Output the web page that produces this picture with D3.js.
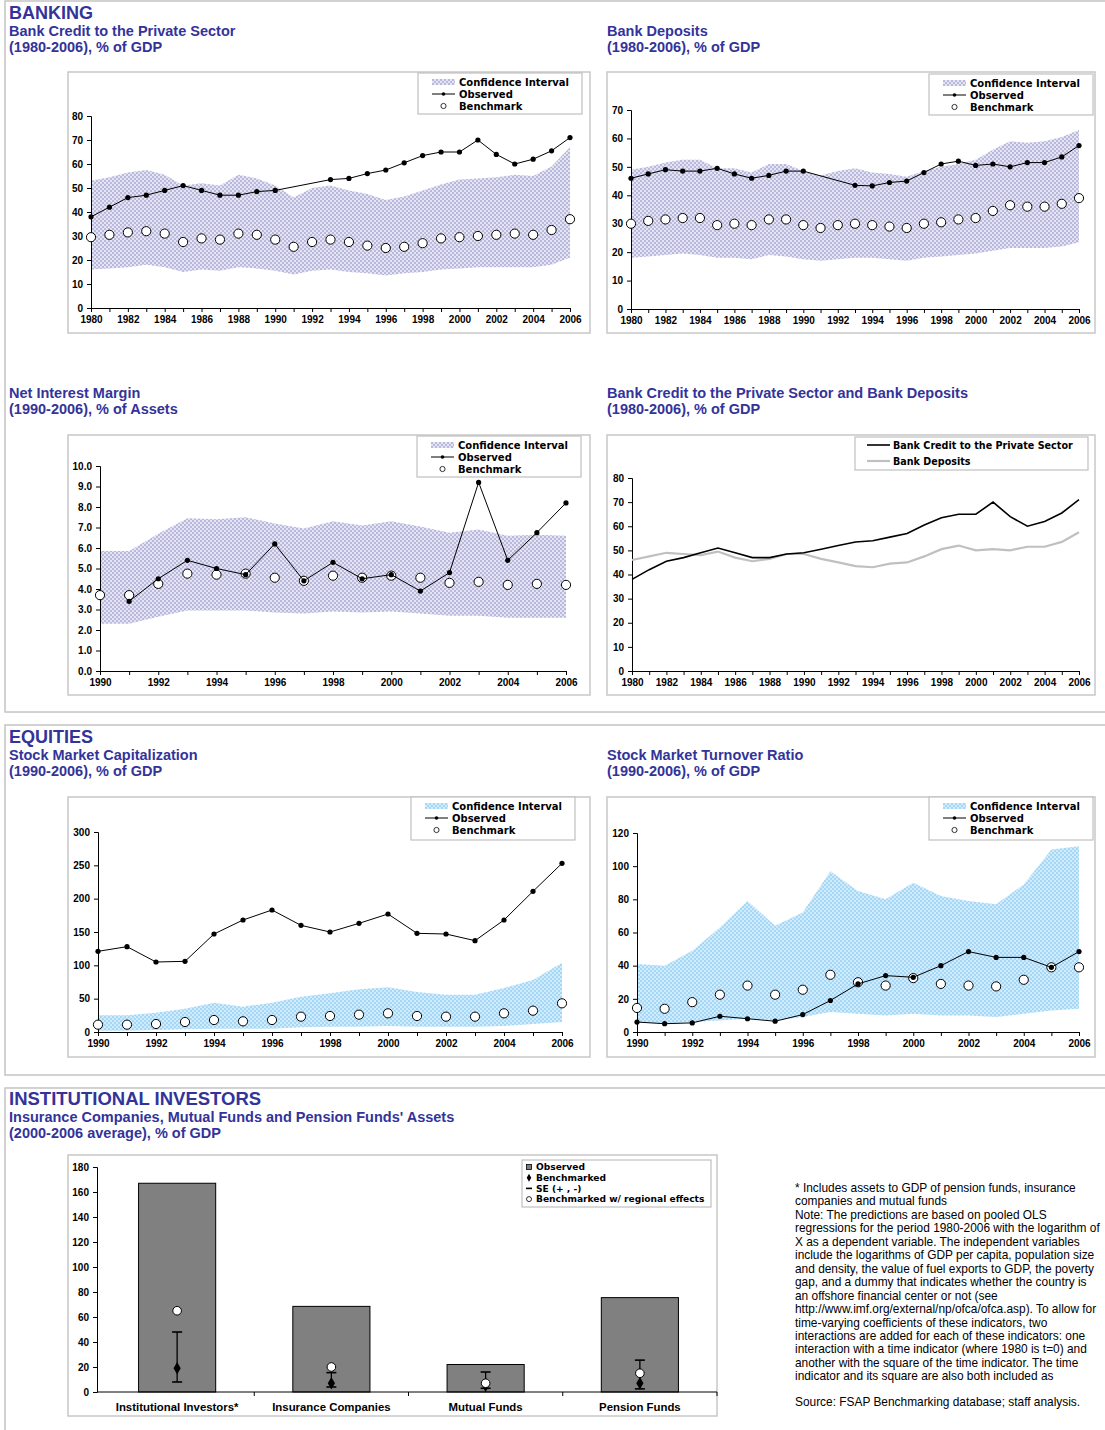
<!DOCTYPE html>
<html>
<head>
<meta charset="utf-8">
<script src="https://cdn.jsdelivr.net/npm/d3@7"></script>
<style>
  body { margin: 0; background: #fff; }
  svg text { font-family: "Liberation Sans", Arial, sans-serif; }
  .tick text { font-weight: bold; font-size: 10px; fill: #000; }
  .lg { font-family: "DejaVu Sans", sans-serif !important; font-weight: bold; font-size: 10px; }
  .note { font-size: 11.9px; fill: #000; }
</style>
</head>
<body>
<div id="chart"></div>
<script>
// ---- data ----
const years80 = [1980,1981,1982,1983,1984,1985,1986,1987,1988,1989,1990,1991,1992,1993,1994,1995,1996,1997,1998,1999,2000,2001,2002,2003,2004,2005,2006];
const years90 = [1990,1991,1992,1993,1994,1995,1996,1997,1998,1999,2000,2001,2002,2003,2004,2005,2006];

// Bank credit to the private sector
const creditObs   = [38,42,46,47,49,51,49,47,47,48.5,49,null,null,53.5,54,56,57.5,60.5,63.5,65,65,70,64,60,62,65.5,71];
const creditBench = [29.5,30.5,31.5,32,31,27.5,29,28.5,31,30.5,28.5,25.5,27.5,28.5,27.5,26,25,25.5,27,29,29.5,30,30.5,31,30.5,32.5,37];
const creditHi    = [53,54.5,56.5,57.5,55.5,51,52,51,55.5,54,51,46,50,51,49,47.5,45,46.5,49,51.5,53.5,54,54.5,55.5,55,59,67];
const creditLo    = [16,16.5,17,18,17,15,16,15.5,17,16.5,15.5,14,15.5,16,15,14.5,13.5,14.5,15,16,16.5,17,17,17,17,18,21];

// Bank deposits
const depObs   = [46,47.5,49,48.5,48.5,49.5,47.5,46,47,48.5,48.5,null,null,43.5,43.3,44.5,45,48,51,52,50.5,51,50,51.5,51.5,53.5,57.5];
const depBench = [30,31,31.5,32,32,29.5,30,29.5,31.5,31.5,29.5,28.5,29.5,30,29.5,29,28.5,30,30.5,31.5,32,34.5,36.5,36,36,37,39];
const depHi    = [49,50,51.5,52.5,52.5,49.5,49.5,48,51,51,48.5,47,48.5,49.5,48,47.5,46.5,48.5,50,51,52.5,56,59,58.5,59,60.5,63];
const depLo    = [18,18.5,19,19.5,19,18,18,17.5,19,18.5,17.5,17,17.5,18,18,17.5,17,18,18.5,19,19.5,20.5,21.5,21.5,21.5,22,23.5];

// Combined chart lines
const creditLine  = [38,42,45.5,47,49,51,49,47,47,48.5,49,50.5,52,53.5,54,55.5,57,60.5,63.5,65,65,70,64,60,62,65.5,71];
const depositLine = [46,47.5,49,48.5,48,49.5,47,45.5,46.5,48.5,48.5,46.5,45,43.5,43,44.5,45,47.5,50.5,52,50,50.5,50,51.5,51.5,53.5,57.5];

// Net interest margin
const nimObs   = [null,3.4,4.5,5.4,5.0,4.7,6.2,4.4,5.3,4.5,4.7,3.9,4.8,9.2,5.4,6.75,8.2];
const nimBench = [3.7,3.7,4.25,4.75,4.7,4.75,4.55,4.4,4.65,4.55,4.65,4.55,4.3,4.35,4.2,4.25,4.2];
const nimHi    = [5.85,5.85,6.7,7.45,7.4,7.5,7.2,6.95,7.3,7.1,7.3,7.05,6.75,6.9,6.6,6.65,6.6];
const nimLo    = [2.3,2.3,2.65,2.95,2.95,2.95,2.85,2.8,2.9,2.85,2.9,2.8,2.7,2.7,2.6,2.6,2.6];

// Stock market capitalization
const capObs   = [121,128,105,106,147,168,183,160,150,163,177,148,147,137,168,211,253];
const capBench = [11,11,12,15,18,16,18,23,24,26,28,24,23,23,28,32,43];
const capHi    = [25,25,29,35,44,38,44,53,58,64,67,60,56,56,66,78,104];
const capLo    = [2,2,3,4,5,5,5,7,8,8,9,8,8,8,9,12,15];

// Stock market turnover ratio
const turnObs   = [6,5,5.5,9.5,8,6.5,10.5,19,29,34,33,40,48.5,45,45,39,48.5];
const turnBench = [14.5,14,18,22.5,28,22.5,25.5,34.5,30,28,32.5,29,28,27.5,31.5,39,39];
const turnHi    = [41,40,49,63,79,64,72,97,85,80,90,82,79,77,89,110,112];
const turnLo    = [6,5,6,7,8,7,9,12,11,10,11,10,10,9,11,13,14];

// Institutional investors
const instCats   = ["Institutional Investors*", "Insurance Companies", "Mutual Funds", "Pension Funds"];
const instObs    = [167, 68.5, 22, 75.5];
const instBench  = [19, 7, 5, 7];
const instSeLo   = [8, 4, 3, 2.5];
const instSeHi   = [48, 15.5, 16, 25.5];
const instRegion = [65, 20, 7, 15];

const noteLines = [
  "* Includes assets to GDP of pension funds, insurance",
  "companies and mutual funds",
  "Note: The predictions are based on pooled OLS",
  "regressions for the period 1980-2006 with the logarithm of",
  "X as a dependent variable. The independent variables",
  "include the logarithms of GDP per capita, population size",
  "and density, the value of fuel exports to GDP, the poverty",
  "gap, and a dummy that indicates whether the country is",
  "an offshore financial center or not (see",
  "http://www.imf.org/external/np/ofca/ofca.asp). To allow for",
  "time-varying coefficients of these indicators, two",
  "interactions are added for each of these indicators: one",
  "interaction with a time indicator (where 1980 is t=0) and",
  "another with the square of the time indicator. The time",
  "indicator and its square are also both included as"
];

// ---- drawing ----
const W = 1105, H = 1430;
const titleColor = "#33339a";
const svg = d3.select("#chart").append("svg").attr("width", W).attr("height", H);

// fill patterns for the confidence bands
const defs = svg.append("defs");
function dotPattern(id, bg, dot) {
  const p = defs.append("pattern").attr("id", id).attr("patternUnits", "userSpaceOnUse")
    .attr("width", 4).attr("height", 4);
  p.append("rect").attr("width", 4).attr("height", 4).attr("fill", bg);
  p.append("circle").attr("cx", 1).attr("cy", 1).attr("r", 0.8).attr("fill", dot);
  p.append("circle").attr("cx", 3).attr("cy", 3).attr("r", 0.8).attr("fill", dot);
}
dotPattern("lav", "#e4e4f3", "#8282c2");
dotPattern("sky", "#d0ebfb", "#6cc0f0");

// section boxes
[[5, 1, 1110, 711], [5, 725, 1110, 350], [5, 1088, 1110, 350]].forEach(b => {
  svg.append("rect").attr("x", b[0]).attr("y", b[1]).attr("width", b[2]).attr("height", b[3])
    .attr("fill", "none").attr("stroke", "#c4c4c4").attr("stroke-width", 1.5);
});

function heading(x, y, txt, size) {
  svg.append("text").attr("x", x).attr("y", y).text(txt)
    .attr("fill", titleColor).attr("font-weight", "bold").attr("font-size", size);
}
const sub = 14.5;
heading(9, 19, "BANKING", 18);
heading(9, 36, "Bank Credit to the Private Sector", sub);
heading(9, 52, "(1980-2006), % of GDP", sub);
heading(607, 36, "Bank Deposits", sub);
heading(607, 52, "(1980-2006), % of GDP", sub);
heading(9, 398, "Net Interest Margin", sub);
heading(9, 414, "(1990-2006), % of Assets", sub);
heading(607, 398, "Bank Credit to the Private Sector and Bank Deposits", sub);
heading(607, 414, "(1980-2006), % of GDP", sub);
heading(9, 743, "EQUITIES", 18);
heading(9, 760, "Stock Market Capitalization", sub);
heading(9, 776, "(1990-2006), % of GDP", sub);
heading(607, 760, "Stock Market Turnover Ratio", sub);
heading(607, 776, "(1990-2006), % of GDP", sub);
heading(9, 1105, "INSTITUTIONAL INVESTORS", 18.5);
heading(9, 1122, "Insurance Companies, Mutual Funds and Pension Funds' Assets", sub);
heading(9, 1138, "(2000-2006 average), % of GDP", sub);

function frame(f) {
  svg.append("rect").attr("x", f[0]).attr("y", f[1]).attr("width", f[2] - f[0]).attr("height", f[3] - f[1])
    .attr("fill", "#fff").attr("stroke", "#c8c8c8").attr("stroke-width", 1.5);
}

function axes(g, x, y, cfg) {
  const xa = d3.axisBottom(x).tickValues(cfg.years).tickSize(4).tickPadding(4)
    .tickFormat(d => d % 2 === 0 ? d : "");
  g.append("g").attr("transform", `translate(0,${cfg.bottom})`).call(xa)
    .call(s => s.select(".domain").attr("stroke", "#000"));
  const ya = d3.axisLeft(y).tickValues(cfg.yTicks).tickSize(4).tickPadding(4)
    .tickFormat(cfg.fmt || (d => d));
  g.append("g").attr("transform", `translate(${cfg.left},0)`).call(ya)
    .call(s => s.select(".domain").attr("stroke", "#000"));
}

function ciLegend(box, fillId) {
  const g = svg.append("g").attr("transform", `translate(${box[0]},${box[1]})`);
  g.append("rect").attr("width", box[2]).attr("height", box[3]).attr("fill", "#fff")
    .attr("stroke", "#c0c0c0").attr("stroke-width", 1.2);
  g.append("rect").attr("x", 14).attr("y", 6).attr("width", 23).attr("height", 6).attr("fill", `url(#${fillId})`);
  g.append("line").attr("x1", 14).attr("x2", 37).attr("y1", 21).attr("y2", 21).attr("stroke", "#000");
  g.append("circle").attr("cx", 25.5).attr("cy", 21).attr("r", 1.8).attr("fill", "#000");
  g.append("circle").attr("cx", 25.5).attr("cy", 33).attr("r", 2.6).attr("fill", "#fff").attr("stroke", "#000").attr("stroke-width", 0.8);
  ["Confidence Interval", "Observed", "Benchmark"].forEach((t, i) => {
    g.append("text").attr("class", "lg").attr("x", 41).attr("y", 12.5 + i * 12).text(t);
  });
}

function ciChart(cfg) {
  frame(cfg.frame);
  const g = svg.append("g");
  const x = d3.scaleLinear().domain(d3.extent(cfg.years)).range([cfg.left, cfg.right]);
  const y = d3.scaleLinear().domain([0, cfg.yMax]).range([cfg.bottom, cfg.top]);
  const rows = cfg.years.map((yr, i) => ({ yr, obs: cfg.obs[i], bench: cfg.bench[i], lo: cfg.lo[i], hi: cfg.hi[i] }));

  g.append("path").datum(rows)
    .attr("fill", `url(#${cfg.fill})`)
    .attr("d", d3.area().x(d => x(d.yr)).y0(d => y(d.lo)).y1(d => y(d.hi)));

  axes(g, x, y, cfg);

  g.selectAll(".bench").data(rows).join("circle")
    .attr("cx", d => x(d.yr)).attr("cy", d => y(d.bench)).attr("r", 4.6)
    .attr("fill", "#fff").attr("stroke", "#000").attr("stroke-width", 1);

  const obsRows = rows.filter(d => d.obs != null);
  g.append("path").datum(obsRows)
    .attr("fill", "none").attr("stroke", "#000").attr("stroke-width", 1)
    .attr("d", d3.line().x(d => x(d.yr)).y(d => y(d.obs)));
  g.selectAll(".obs").data(obsRows).join("circle")
    .attr("cx", d => x(d.yr)).attr("cy", d => y(d.obs)).attr("r", 2.6).attr("fill", "#000");

  ciLegend(cfg.legend, cfg.fill);
}

const ticks = (a, b, s) => d3.range(a, b + s / 2, s);

ciChart({ frame: [68, 72, 590, 333], left: 91, right: 570, top: 116, bottom: 308,
  years: years80, yMax: 80, yTicks: ticks(0, 80, 10), fill: "lav",
  obs: creditObs, bench: creditBench, lo: creditLo, hi: creditHi, legend: [418, 73, 164, 41] });

ciChart({ frame: [607, 72, 1095, 333], left: 631, right: 1079, top: 110, bottom: 309,
  years: years80, yMax: 70, yTicks: ticks(0, 70, 10), fill: "lav",
  obs: depObs, bench: depBench, lo: depLo, hi: depHi, legend: [929, 74, 164, 41] });

ciChart({ frame: [68, 435, 590, 695], left: 100, right: 566, top: 466, bottom: 671,
  years: years90, yMax: 10, yTicks: ticks(0, 10, 1), fmt: d3.format(".1f"), fill: "lav",
  obs: nimObs, bench: nimBench, lo: nimLo, hi: nimHi, legend: [417, 436, 164, 41] });

ciChart({ frame: [68, 797, 590, 1057], left: 98, right: 562, top: 832, bottom: 1032,
  years: years90, yMax: 300, yTicks: ticks(0, 300, 50), fill: "sky",
  obs: capObs, bench: capBench, lo: capLo, hi: capHi, legend: [411, 797, 164, 43] });

ciChart({ frame: [607, 797, 1095, 1057], left: 637, right: 1079, top: 833, bottom: 1032,
  years: years90, yMax: 120, yTicks: ticks(0, 120, 20), fill: "sky",
  obs: turnObs, bench: turnBench, lo: turnLo, hi: turnHi, legend: [929, 797, 164, 43] });

// combined credit / deposits line chart
(function () {
  const cfg = { left: 632, right: 1079, top: 478, bottom: 671, years: years80, yTicks: ticks(0, 80, 10) };
  frame([607, 435, 1095, 695]);
  const g = svg.append("g");
  const x = d3.scaleLinear().domain(d3.extent(years80)).range([cfg.left, cfg.right]);
  const y = d3.scaleLinear().domain([0, 80]).range([cfg.bottom, cfg.top]);
  axes(g, x, y, cfg);
  const series = [
    { name: "Bank Credit to the Private Sector", vals: creditLine, color: "#000", w: 1.6 },
    { name: "Bank Deposits", vals: depositLine, color: "#c0c0c0", w: 2.2 }
  ];
  series.slice().reverse().forEach(s => {
    g.append("path").datum(years80.map((yr, i) => [yr, s.vals[i]]))
      .attr("fill", "none").attr("stroke", s.color).attr("stroke-width", s.w)
      .attr("d", d3.line().x(d => x(d[0])).y(d => y(d[1])));
  });
  const lg = svg.append("g").attr("transform", "translate(855,437)");
  lg.append("rect").attr("width", 233).attr("height", 33).attr("fill", "#fff")
    .attr("stroke", "#c0c0c0").attr("stroke-width", 1.2);
  series.forEach((s, i) => {
    lg.append("line").attr("x1", 12).attr("x2", 35).attr("y1", 8 + i * 16).attr("y2", 8 + i * 16)
      .attr("stroke", s.color).attr("stroke-width", s.w);
    lg.append("text").attr("class", "lg").attr("x", 38).attr("y", 11.5 + i * 16)
      .style("font-size", "9.6px").text(s.name);
  });
})();

// institutional investors bar chart
(function () {
  frame([68, 1155, 717, 1416]);
  const left = 97, right = 717, top = 1167, bottom = 1392;
  const g = svg.append("g");
  const xb = d3.scaleBand().domain(instCats).range([left + 3, right]);
  const y = d3.scaleLinear().domain([0, 180]).range([bottom, top]);
  const rows = instCats.map((c, i) => ({ c, obs: instObs[i], bench: instBench[i], lo: instSeLo[i], hi: instSeHi[i], reg: instRegion[i] }));
  const bw = xb.bandwidth() * 0.5;
  const cx = c => xb(c) + xb.bandwidth() / 2;

  g.selectAll(".bar").data(rows).join("rect")
    .attr("x", d => cx(d.c) - bw / 2).attr("width", bw)
    .attr("y", d => y(d.obs)).attr("height", d => bottom - y(d.obs))
    .attr("fill", "#808080").attr("stroke", "#000").attr("stroke-width", 1);

  // x axis with ticks between categories
  g.append("line").attr("x1", left).attr("x2", right).attr("y1", bottom).attr("y2", bottom).attr("stroke", "#000");
  g.selectAll(".xt").data(instCats.slice(1).concat(["end"])).join("line")
    .attr("x1", (d, i) => xb.range()[0] + (i + 1) * xb.step()).attr("x2", (d, i) => xb.range()[0] + (i + 1) * xb.step())
    .attr("y1", bottom).attr("y2", bottom + 4).attr("stroke", "#000");
  g.selectAll(".xl").data(rows).join("text")
    .attr("x", d => cx(d.c)).attr("y", bottom + 19).attr("text-anchor", "middle")
    .attr("font-weight", "bold").attr("font-size", 11.4).text(d => d.c);

  g.append("g").attr("transform", `translate(${left},0)`)
    .call(d3.axisLeft(y).tickValues(ticks(0, 180, 20)).tickSize(4).tickPadding(4))
    .call(s => s.select(".domain").attr("stroke", "#000"));

  // SE bars
  rows.forEach(d => {
    const xc = cx(d.c);
    g.append("line").attr("x1", xc).attr("x2", xc).attr("y1", y(d.lo)).attr("y2", y(d.hi)).attr("stroke", "#000").attr("stroke-width", 1.3);
    [d.lo, d.hi].forEach(v => g.append("line").attr("x1", xc - 5).attr("x2", xc + 5)
      .attr("y1", y(v)).attr("y2", y(v)).attr("stroke", "#000").attr("stroke-width", 1.6));
  });
  g.selectAll(".bm").data(rows).join("path")
    .attr("transform", d => `translate(${cx(d.c)},${y(d.bench)})`)
    .attr("d", d3.symbol(d3.symbolDiamond, 45)).attr("fill", "#000");
  g.selectAll(".rg").data(rows).join("circle")
    .attr("cx", d => cx(d.c)).attr("cy", d => y(d.reg)).attr("r", 4.3)
    .attr("fill", "#fff").attr("stroke", "#000").attr("stroke-width", 1);

  // legend
  const lg = svg.append("g").attr("transform", "translate(522,1160)");
  lg.append("rect").attr("width", 189).attr("height", 47).attr("fill", "#fff")
    .attr("stroke", "#c0c0c0").attr("stroke-width", 1.2);
  const labels = ["Observed", "Benchmarked", "SE (+ , -)", "Benchmarked w/ regional effects"];
  labels.forEach((t, i) => {
    const yy = 7 + i * 10.7;
    if (i === 0) lg.append("rect").attr("x", 4.5).attr("y", yy - 2.5).attr("width", 5).attr("height", 5).attr("fill", "#808080").attr("stroke", "#000").attr("stroke-width", 0.8);
    if (i === 1) lg.append("path").attr("transform", `translate(7,${yy})`).attr("d", d3.symbol(d3.symbolDiamond, 18)).attr("fill", "#000");
    if (i === 2) lg.append("line").attr("x1", 4).attr("x2", 10).attr("y1", yy).attr("y2", yy).attr("stroke", "#000").attr("stroke-width", 1.6);
    if (i === 3) lg.append("circle").attr("cx", 7).attr("cy", yy).attr("r", 2.5).attr("fill", "#fff").attr("stroke", "#000").attr("stroke-width", 0.8);
    lg.append("text").attr("class", "lg").attr("x", 14).attr("y", yy + 3.2).style("font-size", "9.1px").text(t);
  });
})();

// notes
const notes = svg.append("g");
notes.selectAll("text").data(noteLines).join("text").attr("class", "note")
  .attr("x", 795).attr("y", (d, i) => 1192 + i * 13.45).text(d => d);
notes.append("text").attr("class", "note").attr("x", 795).attr("y", 1406)
  .text("Source: FSAP Benchmarking database; staff analysis.");
</script>
</body>
</html>
